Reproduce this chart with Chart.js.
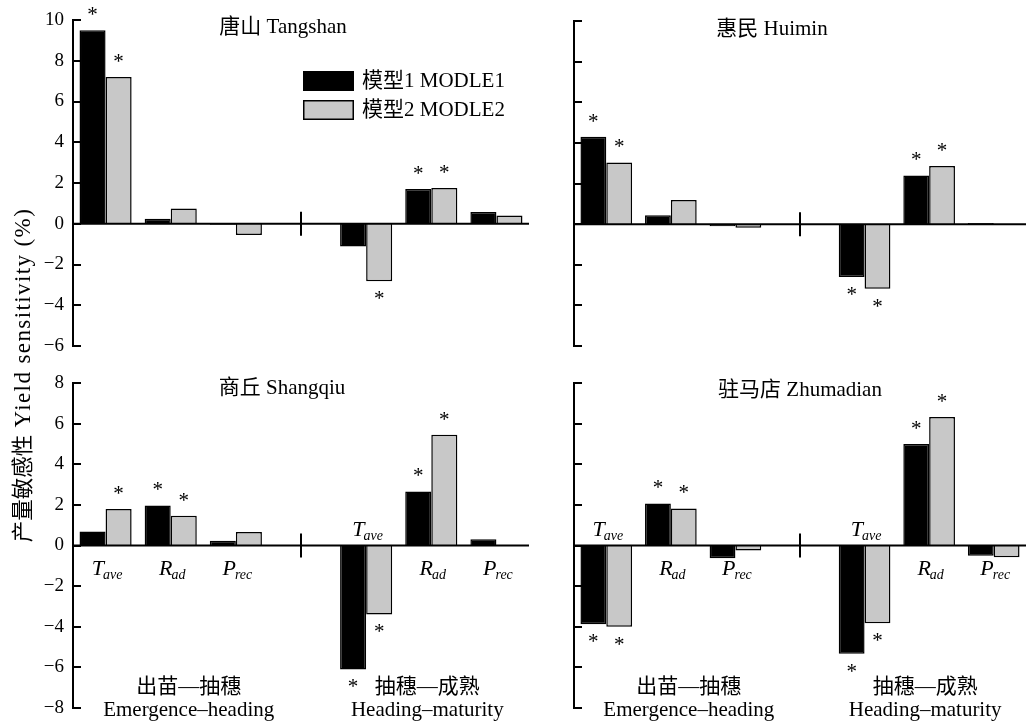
<!DOCTYPE html>
<html>
<head>
<meta charset="utf-8">
<script src="https://cdn.jsdelivr.net/npm/chart.js@4.4.1/dist/chart.umd.min.js"></script>
<style>
  body { margin: 0; background: #fff; width: 1026px; height: 725px; overflow: hidden; position: relative; }
  canvas { position: absolute; }
  #yTitle {
    position: absolute; left: 23px; top: 375px; width: 420px; height: 28px;
    margin-left: -210px; margin-top: -14px; line-height: 28px; text-align: center;
    transform: rotate(-90deg); white-space: nowrap; color: #000;
    font-family: "Liberation Serif", "Noto Sans CJK SC";
  }
  #yTitle .zh { font-size: 21.5px; }
  #yTitle .en { font-size: 23px; letter-spacing: 1.4px; }
</style>
</head>
<body>
<canvas id="tangshan" width="540" height="360" style="left:0;top:0;width:540px;height:360px"></canvas>
<canvas id="huimin" width="496" height="360" style="left:530px;top:0;width:496px;height:360px"></canvas>
<canvas id="shangqiu" width="540" height="365" style="left:0;top:360px;width:540px;height:365px"></canvas>
<canvas id="zhumadian" width="496" height="365" style="left:530px;top:360px;width:496px;height:365px"></canvas>
<div id="yTitle"><span class="zh">产量敏感性</span><span class="en"> Yield sensitivity (%)</span></div>
<script>
// categories: 3 factors in each phase, empty slot in the middle is the phase divider
const categories = ['Tave', 'Rad', 'Prec', '', 'Tave', 'Rad', 'Prec'];
const catMain = ['T', 'R', 'P', '', 'T', 'R', 'P'];
const catSub = ['ave', 'ad', 'rec', '', 'ave', 'ad', 'rec'];
const seriesNames = ['模型1 MODLE1', '模型2 MODLE2'];
const phaseZh = ['出苗—抽穗', '抽穗—成熟'];
const phaseEn = ['Emergence–heading', 'Heading–maturity'];

// yield sensitivity (%) per station, model 1 / model 2
const tangshanM1 = [9.5, 0.25, -0.05, null, -1.12, 1.7, 0.58];
const tangshanM2 = [7.2, 0.75, -0.55, null, -2.82, 1.75, 0.41];
const huiminM1 = [4.3, 0.44, -0.1, null, -2.6, 2.4, 0.05];
const huiminM2 = [3.04, 1.19, -0.18, null, -3.18, 2.86, -0.04];
const shangqiuM1 = [0.69, 1.97, 0.23, null, -6.1, 2.66, 0.31];
const shangqiuM2 = [1.8, 1.46, 0.67, null, -3.4, 5.45, 0];
const zhumadianM1 = [-3.88, 2.07, -0.63, null, -5.33, 5.0, -0.5];
const zhumadianM2 = [-4.0, 1.82, -0.25, null, -3.83, 6.33, -0.58];

// significance marks (*)
const tangshanS1 = [1, 0, 0, 0, 0, 1, 0];
const tangshanS2 = [1, 0, 0, 0, 1, 1, 0];
const huiminS1 = [1, 0, 0, 0, 1, 1, 0];
const huiminS2 = [1, 0, 0, 0, 1, 1, 0];
const shangqiuS1 = [0, 1, 0, 0, 1, 1, 0];
const shangqiuS2 = [1, 1, 0, 0, 1, 1, 0];
const zhumadianS1 = [1, 1, 0, 0, 1, 1, 0];
const zhumadianS2 = [1, 1, 0, 0, 1, 1, 0];

const serif = '"Liberation Serif", "Noto Sans CJK SC"';
const colors = ['#000000', '#c8c8c8'];

const panelDecor = {
  id: 'panelDecor',
  afterDatasetsDraw(chart, args, o) {
    const c = chart.ctx;
    const area = chart.chartArea;
    const xs = chart.scales.x, ys = chart.scales.y;
    const y0 = ys.getPixelForValue(0);
    c.save();
    c.strokeStyle = '#000';
    c.fillStyle = '#000';
    c.lineWidth = 2;
    // zero line
    c.beginPath();
    c.moveTo(area.left, y0);
    c.lineTo(area.right, y0);
    c.stroke();
    // inward ticks
    ys.ticks.forEach(t => {
      const py = Math.round(ys.getPixelForValue(t.value));
      c.beginPath();
      c.moveTo(area.left, py);
      c.lineTo(area.left + 8, py);
      c.stroke();
    });
    // phase divider
    const xd = xs.getPixelForValue(3);
    c.beginPath();
    c.moveTo(xd, y0 - 12);
    c.lineTo(xd, y0 + 12);
    c.stroke();

    // stars
    const starSize = 21;
    c.font = starSize + 'px ' + serif;
    c.textAlign = 'center';
    c.textBaseline = 'alphabetic';
    chart.data.datasets.forEach((ds, i) => {
      const meta = chart.getDatasetMeta(i);
      ds.stars.forEach((s, j) => {
        if (!s) return;
        const bar = meta.data[j];
        const v = ds.data[j];
        const cy = v >= 0 ? bar.y - 19 : bar.y + 14;
        c.fillText('*', bar.x, cy + starSize * 0.47);
      });
    });

    // title
    c.font = '21px ' + serif;
    c.textBaseline = 'middle';
    c.fillText(o.title, o.titleX, o.titleY);

    // factor labels
    if (o.catLabels) {
      const m1 = chart.data.datasets[0].data, m2 = chart.data.datasets[1].data;
      categories.forEach((cat, j) => {
        if (!cat) return;
        const cx = xs.getPixelForValue(j);
        const above = Math.max(m1[j], m2[j]) <= -1;
        const by = above ? y0 - 10 : y0 + 29;
        c.font = 'italic 22px ' + serif;
        const wm = c.measureText(catMain[j]).width;
        c.font = 'italic 14px ' + serif;
        const wsub = c.measureText(catSub[j]).width;
        const x0 = cx - (wm + wsub) / 2 + 2;
        c.textAlign = 'left';
        c.textBaseline = 'alphabetic';
        c.font = 'italic 22px ' + serif;
        c.fillText(catMain[j], x0, by);
        c.font = 'italic 14px ' + serif;
        c.fillText(catSub[j], x0 + wm - 1, by + 4);
      });
    }

    // phase labels
    if (o.phaseLabels) {
      c.textAlign = 'center';
      c.textBaseline = 'middle';
      c.font = '21px ' + serif;
      const px = [xs.getPixelForValue(1) + 18, xs.getPixelForValue(5) - 4];
      px.forEach((x, k) => {
        c.fillText(phaseZh[k], x, 327);
        c.fillText(phaseEn[k], x, 350);
      });
    }

    // legend
    if (o.legend) {
      c.textAlign = 'left';
      c.textBaseline = 'middle';
      c.font = '21px ' + serif;
      chart.data.datasets.forEach((ds, i) => {
        const ty = 71 + i * 29;
        c.fillStyle = ds.backgroundColor;
        c.fillRect(303, ty, 51, 20);
        c.lineWidth = 1.5;
        c.strokeStyle = '#000';
        c.strokeRect(303.75, ty + 0.75, 49.5, 18.5);
        c.fillStyle = '#000';
        c.fillText(ds.label, 362, ty + 10);
      });
    }
    c.restore();
  }
};

function makePanel(id, m1, m2, s1, s2, o) {
  const ctx = document.getElementById(id).getContext('2d');
  return new Chart(ctx, {
    type: 'bar',
    data: {
      labels: categories,
      datasets: [
        { label: seriesNames[0], data: m1, stars: s1, backgroundColor: colors[0], borderColor: '#000', borderWidth: 1.5 },
        { label: seriesNames[1], data: m2, stars: s2, backgroundColor: colors[1], borderColor: '#000', borderWidth: 1.5 }
      ]
    },
    options: {
      responsive: false,
      animation: false,
      layout: { padding: { top: o.padTop, bottom: o.padBottom, right: o.padRight, left: 0 } },
      datasets: { bar: { categoryPercentage: 0.8, barPercentage: 1.0 } },
      plugins: {
        legend: { display: false },
        tooltip: { enabled: false },
        panelDecor: o
      },
      scales: {
        x: { display: false },
        y: {
          min: o.min, max: o.max,
          grid: { display: false, drawTicks: false },
          border: { display: true, color: '#000', width: 2 },
          ticks: {
            display: o.showTicks,
            stepSize: 2,
            padding: 9,
            color: '#000',
            font: { family: serif, size: 19 },
            callback: v => v < 0 ? '\u2212' + Math.abs(v) : String(v)
          },
          afterFit(scale) {
            scale.width = o.axisW;
            scale.paddingTop = 0;
            scale.paddingBottom = 0;
          }
        }
      }
    },
    plugins: [panelDecor]
  });
}

makePanel('tangshan', tangshanM1, tangshanM2, tangshanS1, tangshanS2, {
  min: -6, max: 10, padTop: 20, padBottom: 14, padRight: 11, axisW: 73, showTicks: true,
  title: '唐山 Tangshan', titleX: 283, titleY: 27, legend: true
});
makePanel('huimin', huiminM1, huiminM2, huiminS1, huiminS2, {
  min: -6, max: 10, padTop: 21, padBottom: 14, padRight: 0, axisW: 44, showTicks: false,
  title: '惠民 Huimin', titleX: 242, titleY: 29
});
makePanel('shangqiu', shangqiuM1, shangqiuM2, shangqiuS1, shangqiuS2, {
  min: -8, max: 8, padTop: 23, padBottom: 17, padRight: 11, axisW: 73, showTicks: true,
  title: '商丘 Shangqiu', titleX: 282, titleY: 28, catLabels: true, phaseLabels: true
});
makePanel('zhumadian', zhumadianM1, zhumadianM2, zhumadianS1, zhumadianS2, {
  min: -8, max: 8, padTop: 23, padBottom: 17, padRight: 0, axisW: 44, showTicks: false,
  title: '驻马店 Zhumadian', titleX: 270, titleY: 30, catLabels: true, phaseLabels: true
});
</script>
</body>
</html>
